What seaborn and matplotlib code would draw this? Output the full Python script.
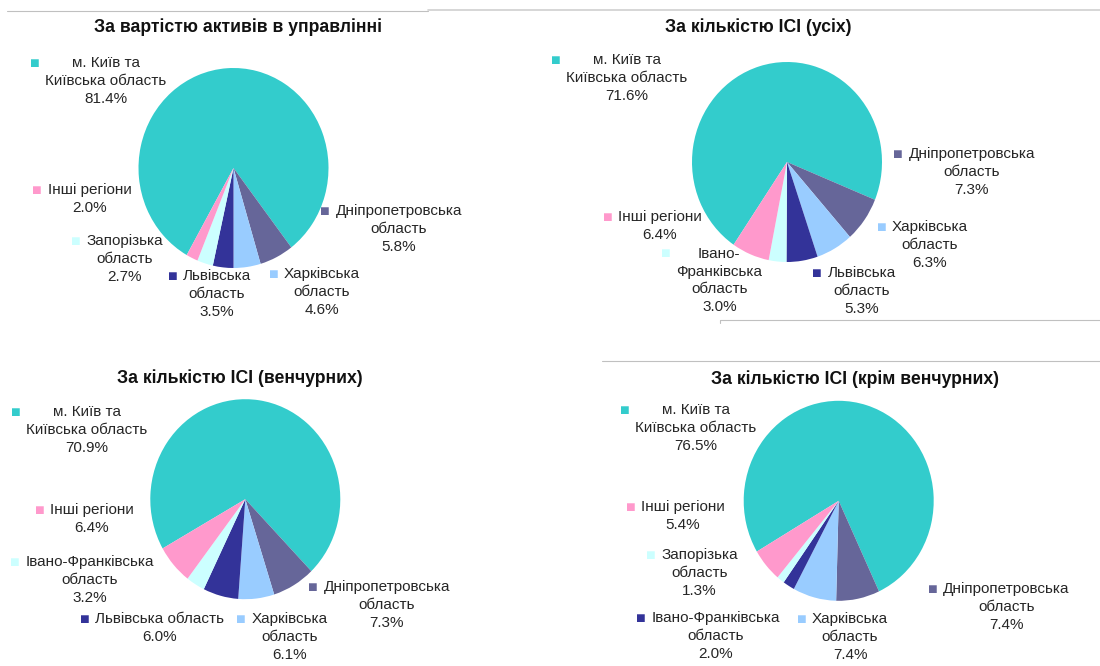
import matplotlib
matplotlib.use("Agg")
import matplotlib.pyplot as plt
from matplotlib.lines import Line2D
import seaborn as sns

# ---- data ----
titles = [
    "За вартістю активів в управлінні",
    "За кількістю ІСІ (усіх)",
    "За кількістю ІСІ (венчурних)",
    "За кількістю ІСІ (крім венчурних)",
]

assets_regions = ["м. Київ та\nКиївська область", "Дніпропетровська\nобласть",
                  "Харківська\nобласть", "Львівська\nобласть",
                  "Запорізька\nобласть", "Інші регіони"]
assets_values = [81.4, 5.8, 4.6, 3.5, 2.7, 2.0]

all_regions = ["м. Київ та\nКиївська область", "Дніпропетровська\nобласть",
               "Харківська\nобласть", "Львівська\nобласть",
               "Івано-\nФранківська\nобласть", "Інші регіони"]
all_values = [71.6, 7.3, 6.3, 5.3, 3.0, 6.4]

venture_regions = ["м. Київ та\nКиївська область", "Дніпропетровська\nобласть",
                   "Харківська\nобласть", "Львівська область",
                   "Івано-Франківська\nобласть", "Інші регіони"]
venture_values = [70.9, 7.3, 6.1, 6.0, 3.2, 6.4]

nonventure_regions = ["м. Київ та\nКиївська область", "Дніпропетровська\nобласть",
                      "Харківська\nобласть", "Івано-Франківська\nобласть",
                      "Запорізька\nобласть", "Інші регіони"]
nonventure_values = [76.5, 7.4, 7.4, 2.0, 1.3, 5.4]

# slice colours by position (Excel 2003 style palette)
slice_colors = ["#33CCCC", "#666699", "#99CCFF", "#333399", "#CCFFFF", "#FF99CC"]

# ---- layout (pixels, origin top-left of the 1100x666 figure) ----
W, H = 1100, 666
RX, RY = 95, 100
centers = [(233.5, 168), (787, 162), (245.3, 499.2), (838.7, 500.8)]
start_angles = [-119.5, -124.2, -150.5, -149.5]
title_pos = [(238, 27), (758.7, 27), (240, 378), (855, 379)]
# label block centres, offset from the pie centre (x right, y up)
label_offsets = [
    [(-127.5, 86.7), (165.5, -61.3), (88.5, -124.3), (-16.5, -126.3), (-108.5, -91.3), (-144, -31.2)],
    [(-160, 83.7), (184.7, -10.3), (143, -83.3), (74.7, -129.3), (-67.7, -118.5), (-127, -64.2)],
    [(-158.3, 68.9), (141.4, -106.1), (44.2, -138.1), (-85.8, -129), (-155.3, -81.1), (-153.3, -20)],
    [(-142.7, 72.5), (167.6, -106.5), (11.3, -136.5), (-122.7, -135.5), (-139.2, -72.5), (-155.7, -15.4)],
]

charts = [
    (assets_regions, assets_values),
    (all_regions, all_values),
    (venture_regions, venture_values),
    (nonventure_regions, nonventure_values),
]

sns.set_theme(style="white")
plt.rcParams["font.family"] = ["Liberation Sans", "DejaVu Sans"]

fig = plt.figure(figsize=(W / 100, H / 100), dpi=100)
fig.patch.set_facecolor("white")

for i, (regions, values) in enumerate(charts):
    cx, cy = centers[i]
    ax = fig.add_axes([(cx - RX) / W, 1 - (cy + RY) / H, 2 * RX / W, 2 * RY / H])
    ax.pie(values, colors=slice_colors, startangle=start_angles[i],
           counterclock=False, radius=1, wedgeprops=dict(linewidth=0))
    ax.set_xlim(-1, 1)
    ax.set_ylim(-1, 1)
    ax.set_aspect("auto")
    ax.axis("off")

    for j, (name, v) in enumerate(zip(regions, values)):
        dx, dy = label_offsets[i][j]
        txt = ax.annotate(f"{name}\n{v:.1f}%", xy=(0, 0), xycoords="data",
                          xytext=(dx, dy), textcoords="offset pixels",
                          ha="center", va="center", multialignment="center",
                          fontsize=11, linespacing=1.35, color="#262626",
                          annotation_clip=False)
        # legend key in front of the label
        ax.annotate("■", xy=(0, 1), xycoords=txt, xytext=(-10.5, -7),
                    textcoords="offset pixels", ha="center", va="center",
                    fontsize=11.5, color=slice_colors[j], annotation_clip=False)

    tx, ty = title_pos[i]
    fig.text(tx / W, 1 - ty / H, titles[i], ha="center", va="center",
             fontsize=12.7, fontweight="bold", color="#111111")

# thin grey panel borders
def hline(x0, x1, y, color="#c0c0c0", lw=0.8):
    fig.add_artist(Line2D([x0 / W, x1 / W], [1 - y / H, 1 - y / H],
                          color=color, linewidth=lw))

hline(7, 428, 10.5)
hline(428, 1100, 9.5, color="#d0d0d0", lw=1.2)
hline(720, 1100, 320)
fig.add_artist(Line2D([720 / W, 720 / W], [1 - 320 / H, 1 - 323 / H],
                      color="#c0c0c0", linewidth=0.8))
hline(602, 1100, 361)

fig.savefig("out.png", dpi=100, facecolor="white")
